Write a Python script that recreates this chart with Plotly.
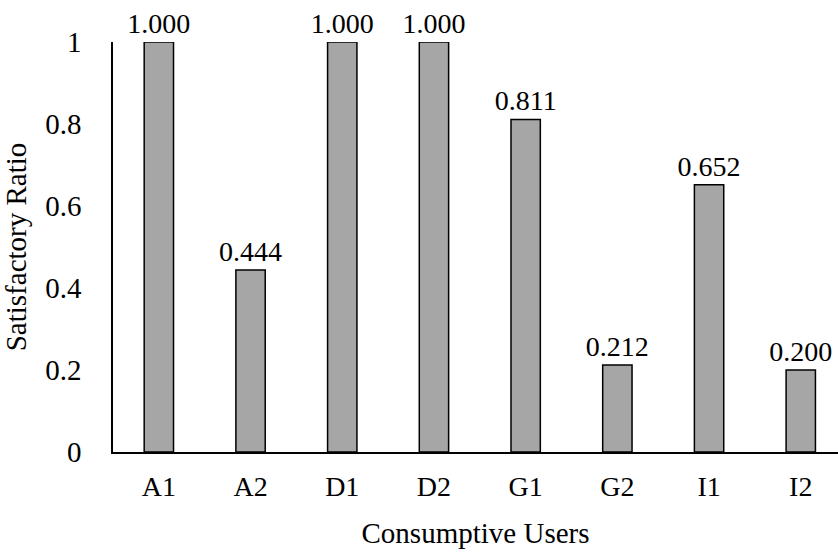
import plotly.graph_objects as go

# Satisfactory ratio per consumptive user
users = ["A1", "A2", "D1", "D2", "G1", "G2", "I1", "I2"]
ratios = [1.000, 0.444, 1.000, 1.000, 0.811, 0.212, 0.652, 0.200]
y_ticks = [0, 0.2, 0.4, 0.6, 0.8, 1.0]
y_tick_text = ["0", "0.2", "0.4", "0.6", "0.8", "1"]

FONT = "Liberation Serif, Times New Roman, serif"

fig = go.Figure(
    go.Bar(
        x=list(range(len(users))),
        y=ratios,
        width=0.32,
        marker=dict(color="#a6a6a6", line=dict(color="black", width=1.5)),
        text=[f"{v:.3f}" for v in ratios],
        textposition="outside",
        constraintext="none",
        textfont=dict(family=FONT, size=28, color="black"),
        cliponaxis=False,
    )
)

fig.update_layout(
    width=838,
    height=552,
    margin=dict(l=113, r=0, t=42, b=100),
    paper_bgcolor="white",
    plot_bgcolor="white",
    showlegend=False,
    font=dict(family=FONT, size=28, color="black"),
)

fig.update_xaxes(
    range=[-0.5, 7.406],
    tickmode="array",
    tickvals=list(range(len(users))),
    ticktext=users,
    tickfont=dict(family=FONT, size=28, color="black"),
    showline=True,
    linecolor="black",
    linewidth=1.5,
    showgrid=False,
    zeroline=False,
    ticks="",
    ticklabelstandoff=9,
    title=dict(text="Consumptive Users", font=dict(family=FONT, size=29), standoff=21),
)

fig.update_yaxes(
    range=[0, 1],
    tickmode="array",
    tickvals=y_ticks,
    ticktext=y_tick_text,
    tickfont=dict(family=FONT, size=29, color="black"),
    showline=True,
    linecolor="black",
    linewidth=1.5,
    showgrid=False,
    zeroline=False,
    ticks="",
    ticklabelstandoff=24,
    title=dict(text="Satisfactory Ratio", font=dict(family=FONT, size=29), standoff=14),
)

fig.write_html("out.html")
